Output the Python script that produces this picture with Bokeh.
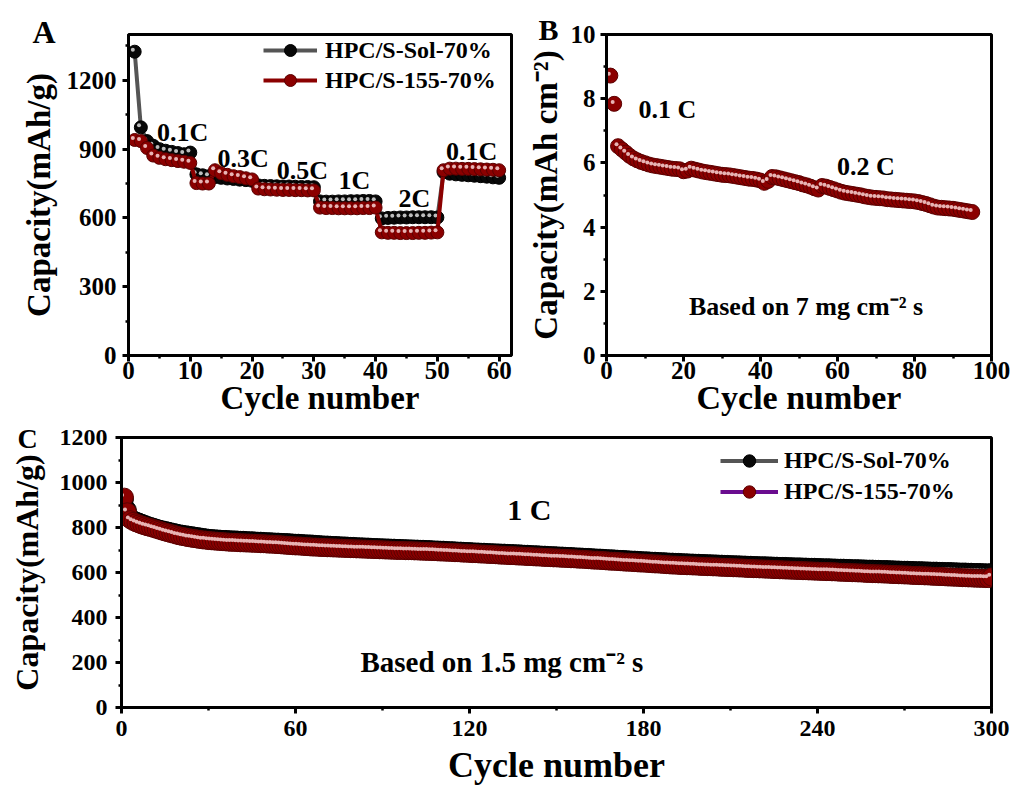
from bokeh.plotting import figure
from bokeh.layouts import column, row
from bokeh.models import (Label, Legend, LegendItem, SingleIntervalTicker,
                          Range1d, ColumnDataSource)
from bokeh.transform import dodge
from bokeh.embed import file_html
from bokeh.resources import INLINE

FONT = "Liberation Serif"

# ---------------- Panel A : rate capability ----------------
cycles_a = list(range(1, 61))
sol_a = [1325, 995, 935, 915, 900, 893, 888, 883, 878, 885,
         790, 786, 782, 778, 775, 772, 770, 767, 765, 762,
         742, 740, 739, 738, 737, 737, 736, 735, 735, 734,
         672, 671, 671, 672, 672, 673, 673, 674, 674, 672,
         598, 600, 601, 602, 602, 603, 603, 603, 603, 602,
         800, 793, 790, 788, 786, 784, 782, 780, 777, 775]
s155_a = [940, 935, 905, 872, 862, 856, 852, 848, 845, 840,
          752, 750, 750, 808, 795, 788, 782, 778, 773, 768,
          728, 725, 724, 723, 722, 722, 721, 721, 720, 720,
          645, 643, 643, 642, 642, 642, 642, 643, 643, 645,
          537, 535, 535, 534, 534, 534, 535, 535, 536, 537,
          808, 815, 815, 814, 814, 813, 812, 811, 810, 808]
rate_labels = ["0.1C", "0.3C", "0.5C", "1C", "2C", "0.1C"]
rate_x = [4.6, 14.4, 24.0, 34.0, 43.7, 51.4]
rate_y = [973, 861, 806, 763, 686, 891]

# ---------------- Panel B : areal capacity ----------------
cycles_b = list(range(1, 96))
areal_b = [8.72, 7.84, 6.52, 6.42, 6.32, 6.22, 6.14, 6.08, 6.03, 5.99,
           5.95, 5.92, 5.90, 5.88, 5.86, 5.84, 5.82, 5.81, 5.80, 5.74,
           5.76, 5.82, 5.79, 5.76, 5.73, 5.71, 5.69, 5.67, 5.65, 5.63,
           5.62, 5.61, 5.59, 5.57, 5.55, 5.53, 5.51, 5.50, 5.48, 5.45,
           5.38, 5.44, 5.56, 5.55, 5.52, 5.49, 5.46, 5.43, 5.40, 5.37,
           5.33, 5.30, 5.26, 5.21, 5.17, 5.28, 5.26, 5.22, 5.18, 5.14,
           5.10, 5.07, 5.05, 5.03, 5.01, 4.99, 4.96, 4.94, 4.92, 4.91,
           4.90, 4.89, 4.87, 4.86, 4.85, 4.84, 4.83, 4.82, 4.81, 4.80,
           4.78, 4.75, 4.72, 4.68, 4.64, 4.61, 4.60, 4.59, 4.58, 4.57,
           4.55, 4.53, 4.51, 4.49, 4.47]

# ---------------- Panel C : long cycling at 1 C ----------------
cycles_c = list(range(1, 301))
sol_c = [925, 878, 842, 835, 829, 824, 819, 814, 809, 805,
         801, 797, 793, 790, 787, 784, 781, 778, 775, 772,
         770, 768, 766, 764, 762, 760, 758, 756, 754, 752,
         751, 750, 749, 748, 747, 747, 746, 745, 745, 744,
         743, 743, 742, 741, 741, 740, 739, 739, 738, 737,
         737, 736, 735, 735, 734, 733, 733, 732, 731, 730,
         730, 729, 728, 727, 727, 726, 725, 724, 723, 722,
         722, 721, 720, 720, 719, 718, 718, 717, 716, 716,
         715, 714, 714, 713, 713, 712, 711, 711, 710, 710,
         709, 709, 708, 708, 707, 707, 706, 706, 705, 705,
         704, 704, 703, 703, 702, 702, 701, 700, 700, 699,
         699, 698, 697, 697, 696, 695, 695, 694, 693, 693,
         692, 691, 691, 690, 690, 689, 688, 688, 687, 687,
         686, 686, 685, 684, 684, 683, 683, 682, 681, 681,
         680, 679, 679, 678, 677, 677, 676, 675, 675, 674,
         673, 673, 672, 671, 671, 670, 669, 669, 668, 667,
         667, 666, 665, 664, 664, 663, 662, 661, 661, 660,
         659, 658, 658, 657, 656, 655, 655, 654, 653, 652,
         652, 651, 650, 650, 649, 648, 648, 647, 646, 646,
         645, 645, 644, 643, 643, 642, 642, 641, 641, 640,
         640, 639, 639, 638, 638, 637, 637, 636, 636, 635,
         635, 634, 634, 633, 633, 632, 632, 631, 631, 630,
         630, 630, 629, 629, 628, 628, 627, 627, 627, 626,
         626, 625, 625, 625, 624, 624, 623, 623, 623, 622,
         622, 621, 621, 621, 620, 620, 619, 619, 619, 618,
         618, 617, 617, 617, 616, 616, 615, 615, 615, 614,
         614, 613, 613, 613, 612, 612, 611, 611, 610, 610,
         610, 609, 609, 608, 608, 608, 607, 607, 606, 606,
         606, 605, 605, 604, 604, 604, 603, 603, 602, 602,
         602, 601, 601, 600, 600, 600, 599, 599, 598, 600]
s155_c = [935, 870, 835, 827, 821, 816, 811, 807, 803, 800,
          796, 792, 788, 784, 780, 777, 773, 770, 766, 763,
          760, 758, 755, 753, 751, 749, 747, 745, 744, 742,
          741, 740, 739, 738, 737, 736, 735, 734, 734, 733,
          732, 732, 731, 731, 730, 730, 729, 728, 728, 727,
          726, 726, 725, 724, 723, 722, 721, 720, 719, 718,
          718, 717, 716, 715, 714, 713, 713, 712, 711, 711,
          710, 710, 709, 709, 708, 708, 707, 707, 706, 706,
          705, 705, 704, 704, 703, 703, 702, 702, 701, 701,
          700, 700, 699, 699, 698, 698, 698, 697, 697, 697,
          696, 696, 695, 695, 694, 694, 693, 693, 692, 691,
          691, 690, 690, 689, 688, 688, 687, 686, 686, 685,
          684, 684, 683, 682, 682, 681, 680, 680, 679, 678,
          677, 677, 676, 675, 675, 674, 673, 673, 672, 671,
          671, 670, 669, 669, 668, 667, 667, 666, 665, 665,
          664, 663, 663, 662, 661, 661, 660, 659, 659, 658,
          657, 656, 655, 655, 654, 653, 652, 651, 650, 650,
          649, 648, 647, 646, 646, 645, 644, 643, 642, 642,
          641, 640, 639, 638, 638, 637, 636, 635, 634, 633,
          633, 632, 631, 631, 630, 630, 629, 629, 628, 627,
          627, 626, 626, 625, 625, 624, 623, 623, 622, 622,
          621, 621, 620, 620, 619, 618, 618, 617, 617, 616,
          616, 615, 615, 614, 613, 613, 612, 612, 611, 611,
          610, 610, 609, 609, 608, 608, 607, 607, 606, 606,
          605, 605, 604, 604, 603, 603, 602, 601, 601, 600,
          600, 599, 599, 598, 598, 597, 596, 596, 595, 595,
          594, 594, 593, 593, 592, 591, 591, 590, 590, 589,
          589, 588, 587, 587, 586, 586, 585, 585, 584, 583,
          583, 582, 582, 581, 580, 580, 579, 579, 578, 577,
          577, 576, 576, 575, 575, 574, 574, 573, 573, 580]

series_names = ["HPC/S-Sol-70%", "HPC/S-155-70%"]

RED = "#8b0000"
RED_EDGE = "#5a0000"
RED_HL = "#e8b4b4"
BLK = "#080808"
BLK_HL = "#bdbdbd"


def style(p, xint, yint, tick_fs, lab_fs, xl_std, yl_std, xt_std, yt_std):
    p.xgrid.visible = False
    p.ygrid.visible = False
    p.outline_line_color = "black"
    p.outline_line_width = 3
    p.outline_line_alpha = 1
    p.background_fill_color = "white"
    p.border_fill_color = "white"
    p.xaxis.ticker = SingleIntervalTicker(interval=xint, num_minor_ticks=2)
    p.yaxis.ticker = SingleIntervalTicker(interval=yint, num_minor_ticks=2)
    for ax in (p.xaxis[0], p.yaxis[0]):
        ax.axis_line_width = 3
        ax.major_tick_line_width = 3
        ax.minor_tick_line_width = 2.5
        ax.major_tick_out = 6
        ax.major_tick_in = 0
        ax.minor_tick_out = 3
        ax.minor_tick_in = 0
        ax.major_label_text_font = FONT
        ax.major_label_text_font_style = "bold"
        ax.major_label_text_font_size = tick_fs
        ax.major_label_text_color = "black"
        ax.axis_label_text_font = FONT
        ax.axis_label_text_font_style = "bold"
        ax.axis_label_text_font_size = lab_fs
        ax.axis_label_text_color = "black"
    p.xaxis.axis_label_standoff = xl_std
    p.yaxis.axis_label_standoff = yl_std
    p.xaxis.major_label_standoff = xt_std
    p.yaxis.major_label_standoff = yt_std


def text(p, x, y, s, fs):
    p.add_layout(Label(x=x, y=y, text=s,
                       text_font=FONT, text_font_style="bold",
                       text_font_size=fs, text_color="black",
                       text_baseline="alphabetic", text_align="left"))


def letter(p, s, offset, standoff, fs):
    p.title.text = s
    p.title.align = "left"
    p.title.vertical_align = "bottom"
    p.title.offset = offset
    p.title.standoff = standoff
    p.title.text_font = FONT
    p.title.text_font_style = "bold"
    p.title.text_font_size = fs
    p.title.text_color = "black"


def legend(items, loc, gw, gh, std):
    return Legend(items=items, location=loc, glyph_width=gw, glyph_height=gh,
                  label_height=gh, spacing=0, padding=0, margin=0,
                  label_standoff=std, border_line_color=None,
                  background_fill_alpha=0, label_text_font=FONT,
                  label_text_color="black",
                  label_text_font_style="bold", label_text_font_size="24px")


# ---------------- figure A ----------------
pA = figure(width=520, height=423, x_range=Range1d(0, 62), y_range=Range1d(0, 1400),
            output_backend="svg", toolbar_location=None,
            min_border_left=128, min_border_right=9, min_border_top=28, min_border_bottom=68,
            x_axis_label="Cycle number", y_axis_label="Capacity(mAh/g)")
style(pA, 10, 300, "25px", "33px", -2, 7, 0, 6)
letter(pA, "A", -96, -31, "32px")
srcA = ColumnDataSource(dict(cycle=cycles_a, sol=sol_a, s155=s155_a))
lA1 = pA.line("cycle", "sol", source=srcA, line_color="#555555", line_width=4)
sA1 = pA.scatter("cycle", "sol", source=srcA, size=13, fill_color=BLK, line_color="black")
pA.scatter(x=dodge("cycle", -0.3), y=dodge("sol", 9), source=srcA, size=4,
           fill_color=BLK_HL, line_color=None)
lA2 = pA.line("cycle", "s155", source=srcA, line_color=RED, line_width=4)
sA2 = pA.scatter("cycle", "s155", source=srcA, size=13, fill_color=RED, line_color=RED_EDGE)
pA.scatter(x=dodge("cycle", -0.3), y=dodge("s155", 9), source=srcA, size=4,
           fill_color=RED_HL, line_color=None)
for s, x, y in zip(rate_labels, rate_x, rate_y):
    text(pA, x, y, s, "26px")
pA.add_layout(legend([LegendItem(label=series_names[0], renderers=[lA1, sA1]),
                      LegendItem(label=series_names[1], renderers=[lA2, sA2])],
                     (135, 260), 54, 30, 8))

# ---------------- figure B ----------------
pB = figure(width=492, height=423, x_range=Range1d(0, 100), y_range=Range1d(0, 10),
            output_backend="svg", toolbar_location=None,
            min_border_left=86, min_border_right=21, min_border_top=34, min_border_bottom=65,
            x_axis_label="Cycle number", y_axis_label="Capacity(mAh cm\u207b\u00b2)")
style(pB, 20, 2, "25px", "34px", -3, 4, 0, 5)
pB.yaxis.axis_label_text_font_size = "33px"
letter(pB, "B", -68, -23, "30px")
srcB = ColumnDataSource(dict(cycle=cycles_b, areal=areal_b))
pB.scatter("cycle", "areal", source=srcB, size=15, fill_color=RED, line_color=RED_EDGE)
pB.scatter(x=dodge("cycle", -0.4), y=dodge("areal", 0.06), source=srcB, size=4,
           fill_color=RED_HL, line_color=None)
text(pB, 8.3, 7.65, "0.1 C", "26px")
text(pB, 59.9, 5.9, "0.2 C", "26px")
text(pB, 21.4, 1.54, "Based on 7 mg cm\u207b\u00b2 s", "26px")

# ---------------- figure C ----------------
pC = figure(width=1012, height=371, x_range=Range1d(0, 300), y_range=Range1d(0, 1200),
            output_backend="svg", toolbar_location=None,
            min_border_left=121, min_border_right=21, min_border_top=14, min_border_bottom=87,
            x_axis_label="Cycle number", y_axis_label="Capacity(mAh/g)")
style(pC, 60, 200, "24px", "36px", 6, 12, 7, 8)
pC.yaxis.axis_label_text_font_size = "32px"
letter(pC, "C", -104, -32, "28px")
srcC = ColumnDataSource(dict(cycle=cycles_c, sol=sol_c, s155=s155_c))
lC1 = pC.line("cycle", "sol", source=srcC, line_color="#555555", line_width=4)
sC1 = pC.scatter("cycle", "sol", source=srcC, size=18, fill_color=BLK, line_color="black")
pC.scatter(x=dodge("cycle", -0.8), y=dodge("sol", 10), source=srcC, size=4,
           fill_color=BLK_HL, line_color=None)
lC2 = pC.line("cycle", "s155", source=srcC, line_color="#6a0d8f", line_width=4)
sC2 = pC.scatter("cycle", "s155", source=srcC, size=18, fill_color=RED, line_color=RED_EDGE)
pC.scatter(x=dodge("cycle", -0.8), y=dodge("s155", 10), source=srcC, size=4,
           fill_color=RED_HL, line_color=None)
text(pC, 133, 880, "1 C", "30px")
text(pC, 82.4, 204, "Based on 1.5 mg cm\u207b\u00b2 s", "29px")
pC.add_layout(legend([LegendItem(label=series_names[0], renderers=[lC1, sC1]),
                      LegendItem(label=series_names[1], renderers=[lC2, sC2])],
                     (599, 200), 58, 31, 6))

layout = column(row(pA, pB), pC)
open("out.html", "w").write(file_html(layout, INLINE))
